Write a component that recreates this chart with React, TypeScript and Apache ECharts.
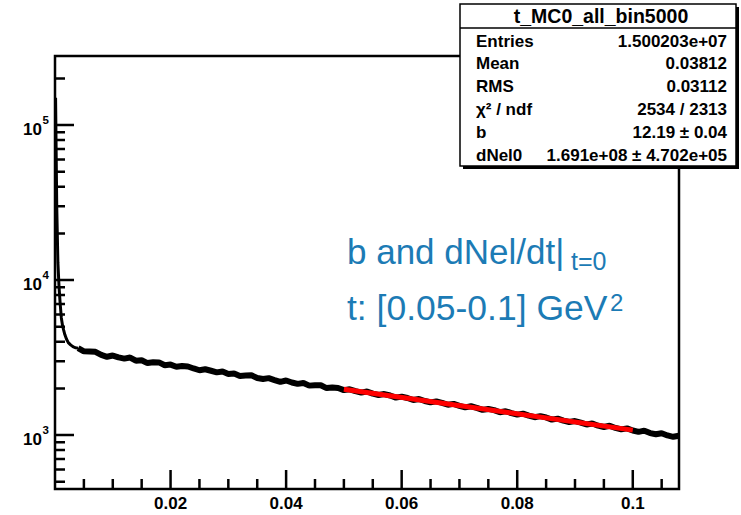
import React, { useEffect, useRef } from "react";
import * as echarts from "echarts";

const FONT = '"Liberation Sans", Arial, Helvetica, sans-serif';

// x range and y range of the frame
const X_MIN = 0;
const X_MAX = 0.108;
const Y_MIN = 449;
const Y_MAX = 279000;

// tick positions / labels
const xTickValues = [0.02, 0.04, 0.06, 0.08, 0.1];
const xTickLabels = ["0.02", "0.04", "0.06", "0.08", "0.1"];
const xMinorTicks = [0.005, 0.01, 0.015, 0.025, 0.03, 0.035, 0.045, 0.05, 0.055, 0.065, 0.07, 0.075, 0.085, 0.09, 0.095, 0.105];
const yMajorTicks = [1000, 10000, 100000];
const yTickBase = "10";
const yTickExponents = ["3", "4", "5"];
const yMinorTicks = [500, 600, 700, 800, 900, 2000, 3000, 4000, 5000, 6000, 7000, 8000, 9000, 20000, 30000, 40000, 50000, 60000, 70000, 80000, 90000, 200000];

// histogram: steep part near t = 0
const spikeT = [0.0001, 0.0003, 0.0005, 0.0007, 0.0009, 0.0011, 0.0013, 0.0015, 0.0017, 0.002, 0.0023, 0.0027, 0.0031, 0.0035, 0.004];
const spikeCounts = [150000, 30000, 13000, 9000, 7000, 5700, 5100, 4750, 4450, 4150, 3950, 3820, 3720, 3660, 3640];

// histogram: main part, t from 0.004 to 0.108 in steps of 0.001
const mainT = [
  0.004, 0.005, 0.006, 0.007, 0.008, 0.009, 0.01, 0.011, 0.012, 0.013, 0.014, 0.015, 0.016, 0.017, 0.018, 0.019,
  0.02, 0.021, 0.022, 0.023, 0.024, 0.025, 0.026, 0.027, 0.028, 0.029, 0.03, 0.031, 0.032, 0.033, 0.034, 0.035,
  0.036, 0.037, 0.038, 0.039, 0.04, 0.041, 0.042, 0.043, 0.044, 0.045, 0.046, 0.047, 0.048, 0.049, 0.05, 0.051,
  0.052, 0.053, 0.054, 0.055, 0.056, 0.057, 0.058, 0.059, 0.06, 0.061, 0.062, 0.063, 0.064, 0.065, 0.066, 0.067,
  0.068, 0.069, 0.07, 0.071, 0.072, 0.073, 0.074, 0.075, 0.076, 0.077, 0.078, 0.079, 0.08, 0.081, 0.082, 0.083,
  0.084, 0.085, 0.086, 0.087, 0.088, 0.089, 0.09, 0.091, 0.092, 0.093, 0.094, 0.095, 0.096, 0.097, 0.098, 0.099,
  0.1, 0.101, 0.102, 0.103, 0.104, 0.105, 0.106, 0.107, 0.108,
];
const mainCounts = [
  3640, 3470, 3460, 3445, 3290, 3200, 3260, 3172, 3115, 3165, 3020, 3040, 2915, 2950, 2945, 2825,
  2850, 2760, 2790, 2770, 2690, 2620, 2660, 2600, 2540, 2575, 2480, 2495, 2405, 2420, 2430, 2335,
  2300, 2330, 2265, 2205, 2250, 2185, 2140, 2170, 2085, 2100, 2095, 2010, 2030, 2015, 1950, 1975,
  1920, 1880, 1910, 1850, 1815, 1840, 1800, 1745, 1770, 1735, 1685, 1710, 1660, 1625, 1650, 1615,
  1570, 1590, 1545, 1510, 1535, 1500, 1455, 1475, 1450, 1405, 1425, 1385, 1355, 1375, 1335, 1305,
  1325, 1300, 1258, 1278, 1240, 1215, 1232, 1205, 1170, 1188, 1150, 1128, 1148, 1112, 1088, 1105,
  1070, 1048, 1068, 1030, 1012, 1028, 995, 975, 990,
];

// fit result (exponential, straight on log scale) over [0.05, 0.1]
const fitT = [0.05, 0.1];
const fitCounts = [1973, 1077];

// stat box
const statTitle = "t_MC0_all_bin5000";
const statLabels = ["Entries", "Mean", "RMS", "\u03c7\u00b2 / ndf", "b", "dNel0"];
const statValues = ["1.500203e+07", "0.03812", "0.03112", "2534 / 2313", "12.19 \u00b1 0.04", "1.691e+08 \u00b1 4.702e+05"];

// layout (pixels)
const W = 741, H = 515;
const G_LEFT = 55, G_RIGHT = 62, G_TOP = 56, G_BOTTOM = 26;
const MAJOR_LEN = 19, MINOR_LEN = 10;

export default function App() {
  const ref = useRef<HTMLDivElement>(null);
  useEffect(() => {
    if (!ref.current) return;
    const chart = echarts.init(ref.current, null, { renderer: "svg" });

    // tick lengths expressed in axis units
    const plotW = W - G_LEFT - G_RIGHT;
    const plotH = H - G_TOP - G_BOTTOM;
    const xPerPx = (X_MAX - X_MIN) / plotW;
    const decPerPx = Math.log10(Y_MAX / Y_MIN) / plotH;
    const yFactor = (len: number) => Math.pow(10, decPerPx * len);

    const tickSeries = (data: number[][]) => ({
      type: "line",
      data,
      showSymbol: false,
      silent: true,
      z: 6,
      lineStyle: { color: "#000", width: 2.5 },
    });
    const ticks: any[] = [];
    xTickValues.forEach((v) => ticks.push(tickSeries([[v, Y_MIN], [v, Y_MIN * yFactor(MAJOR_LEN)]])));
    xMinorTicks.forEach((v) => ticks.push(tickSeries([[v, Y_MIN], [v, Y_MIN * yFactor(MINOR_LEN)]])));
    yMajorTicks.forEach((v) => ticks.push(tickSeries([[X_MIN, v], [X_MIN + xPerPx * MAJOR_LEN, v]])));
    yMinorTicks.forEach((v) => ticks.push(tickSeries([[X_MIN, v], [X_MIN + xPerPx * MINOR_LEN, v]])));

    chart.setOption({
      animation: false,
      backgroundColor: "#fff",
      grid: { left: G_LEFT, right: G_RIGHT, top: G_TOP, bottom: G_BOTTOM, show: true, borderColor: "#000", borderWidth: 2.5 },
      xAxis: {
        type: "value",
        min: X_MIN,
        max: X_MAX,
        interval: 0.02,
        axisLine: { show: false },
        axisTick: { show: false },
        splitLine: { show: false },
        axisLabel: {
          showMinLabel: false,
          showMaxLabel: false,
          margin: 6,
          color: "#000",
          fontFamily: FONT,
          fontWeight: "bold",
          fontSize: 17,
          formatter: (v: number) => {
            const i = xTickValues.findIndex((t) => Math.abs(t - v) < 1e-9);
            return i >= 0 ? xTickLabels[i] : "";
          },
        },
      },
      yAxis: {
        type: "log",
        min: Y_MIN,
        max: Y_MAX,
        axisLine: { show: false },
        axisTick: { show: false },
        splitLine: { show: false },
        axisLabel: { show: false },
      },
      series: [
        {
          type: "line",
          data: spikeT.map((t, i) => [t, spikeCounts[i]]),
          showSymbol: false,
          lineStyle: { color: "#000", width: 3 },
        },
        {
          type: "line",
          data: mainT.map((t, i) => [t, mainCounts[i]]),
          showSymbol: false,
          lineStyle: { color: "#000", width: 6 },
        },
        {
          type: "line",
          data: fitT.map((t, i) => [t, fitCounts[i]]),
          showSymbol: false,
          lineStyle: { color: "#ff0000", width: 5 },
        },
        ...ticks,
      ],
    });

    // y labels placed through the chart's own scale
    const px = (x: number, y: number) => chart.convertToPixel({ gridIndex: 0 }, [x, y]) as number[];
    const els: any[] = [];
    yMajorTicks.forEach((v, i) => {
      const p = px(X_MIN, v);
      els.push({ type: "text", z: 120, style: { x: p[0] - 13, y: p[1] + 4, text: yTickBase, font: `bold 17px ${FONT}`, fill: "#000", align: "right", verticalAlign: "middle" } });
      els.push({ type: "text", z: 120, style: { x: p[0] - 12.5, y: p[1] - 5, text: yTickExponents[i], font: `bold 11.5px ${FONT}`, fill: "#000", align: "left", verticalAlign: "middle" } });
    });

    const blue = "#1c7bb5";
    els.push(
      { type: "text", z: 50, style: { x: 347, y: 251, text: "b and dNel/dt|", font: `35px ${FONT}`, fill: blue, align: "left", verticalAlign: "middle" } },
      { type: "text", z: 50, style: { x: 571, y: 261, text: "t=0", font: `25px ${FONT}`, fill: blue, align: "left", verticalAlign: "middle" } },
      { type: "text", z: 50, style: { x: 347, y: 308, text: "t: [0.05-0.1] GeV", font: `35.5px ${FONT}`, fill: blue, align: "left", verticalAlign: "middle" } },
      { type: "text", z: 50, style: { x: 610, y: 302, text: "2", font: `24px ${FONT}`, fill: blue, align: "left", verticalAlign: "middle" } }
    );

    const boxX = 460, boxY = 4, boxW = 276, boxH = 162;
    const rowY = [41, 63.8, 86.6, 109.4, 132.2, 155];
    els.push(
      { type: "rect", z: 200, shape: { x: boxX + 3, y: boxY + 3, width: boxW, height: boxH }, style: { fill: "#000" } },
      { type: "rect", z: 201, shape: { x: boxX, y: boxY, width: boxW, height: boxH }, style: { fill: "#fff", stroke: "#000", lineWidth: 1.5 } },
      { type: "line", z: 202, shape: { x1: boxX, y1: 28, x2: boxX + boxW, y2: 28 }, style: { stroke: "#000", lineWidth: 1.5 } },
      { type: "text", z: 202, style: { x: 601, y: 16, text: statTitle, font: `bold 19.5px ${FONT}`, fill: "#000", align: "center", verticalAlign: "middle" } }
    );
    statLabels.forEach((l, i) => {
      els.push({ type: "text", z: 202, style: { x: 476, y: rowY[i], text: l, font: `bold 17px ${FONT}`, fill: "#000", align: "left", verticalAlign: "middle" } });
      els.push({ type: "text", z: 202, style: { x: 727, y: rowY[i], text: statValues[i], font: `bold 17px ${FONT}`, fill: "#000", align: "right", verticalAlign: "middle" } });
    });

    chart.setOption({ graphic: { elements: els } });
    return () => chart.dispose();
  }, []);
  return <div ref={ref} style={{ position: "fixed", left: 0, top: 0, width: W, height: H, background: "#fff" }} />;
}
